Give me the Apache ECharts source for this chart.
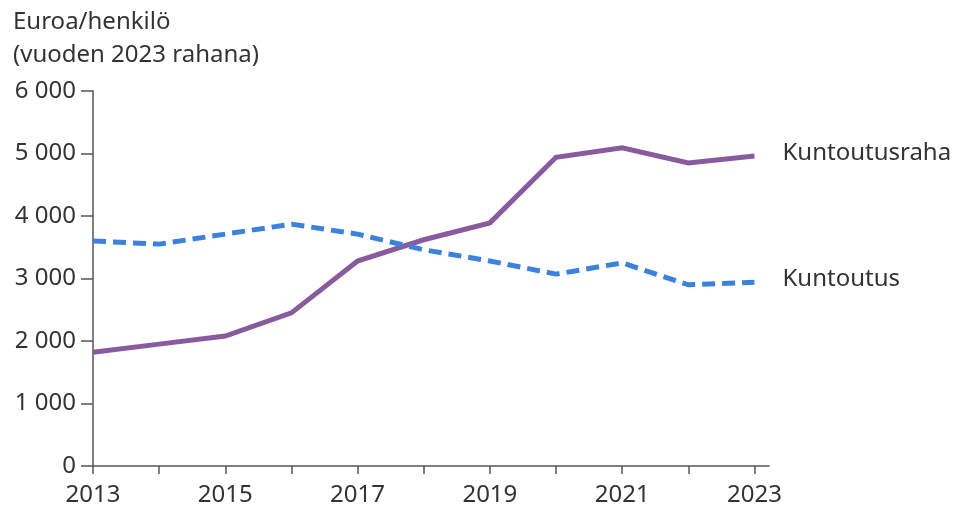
<!DOCTYPE html>
<html>
<head>
<meta charset="utf-8">
<script src="https://cdn.jsdelivr.net/npm/echarts@6/dist/echarts.min.js"></script>
<style>
  html, body { margin: 0; padding: 0; background: #fff; }
  #chart { width: 953px; height: 511px; }
</style>
</head>
<body>
<div id="chart"></div>
<script>
// vuodet ja arvot (euroa/henkilö, vuoden 2023 rahana)
var years = [2013, 2014, 2015, 2016, 2017, 2018, 2019, 2020, 2021, 2022, 2023];
var yearLabels = [2013, 2015, 2017, 2019, 2021, 2023];
var kuntoutusraha = [1820, 1950, 2080, 2450, 3280, 3620, 3890, 4940, 5090, 4850, 4960];
var kuntoutus = [3600, 3550, 3710, 3870, 3710, 3460, 3280, 3070, 3250, 2900, 2940];

var font = 'Noto Sans';
var textColor = '#333';
var axisColor = '#555';

function pairs(vals) {
  return years.map(function (y, i) { return [y, vals[i]]; });
}

var chart = echarts.init(document.getElementById('chart'));

var option = {
  animation: false,
  title: {
    text: 'Euroa/henkilö\n(vuoden 2023 rahana)',
    left: 8,
    top: 1,
    textStyle: {
      fontFamily: font,
      fontSize: 24,
      fontWeight: 'normal',
      color: textColor,
      lineHeight: 33
    }
  },
  grid: {
    left: 93,
    right: 184,
    top: 91,
    bottom: 45
  },
  xAxis: {
    type: 'value',
    min: 2013,
    max: 2023.22,
    splitLine: { show: false },
    axisLine: { lineStyle: { color: axisColor, width: 1.5 } },
    axisTick: {
      length: 8,
      lineStyle: { color: axisColor, width: 1.5 },
      customValues: years
    },
    axisLabel: {
      customValues: yearLabels,
      margin: 17,
      fontFamily: font,
      fontSize: 24,
      color: textColor,
      formatter: function (v) { return String(v); }
    }
  },
  yAxis: {
    type: 'value',
    min: 0,
    max: 6000,
    interval: 1000,
    splitLine: { show: false },
    axisLine: { show: true, lineStyle: { color: axisColor, width: 1.5 } },
    axisTick: {
      show: true,
      length: 12,
      lineStyle: { color: axisColor, width: 1.5 }
    },
    axisLabel: {
      margin: 17,
      fontFamily: font,
      fontSize: 24,
      color: textColor,
      formatter: function (v) {
        return String(v).replace(/\B(?=(\d{3})+(?!\d))/g, ' ');
      }
    }
  },
  series: [{
    name: 'Kuntoutusraha',
    type: 'line',
    data: pairs(kuntoutusraha),
    showSymbol: false,
    lineStyle: { color: '#8a5a9f', width: 5, cap: 'butt', join: 'miter' },
    endLabel: {
      show: true,
      formatter: '{a}',
      distance: 28,
      offset: [0, -3],
      fontFamily: font,
      fontSize: 24,
      color: textColor
    }
  }, {
    name: 'Kuntoutus',
    type: 'line',
    data: pairs(kuntoutus),
    showSymbol: false,
    lineStyle: { color: '#3c82dc', width: 5, type: [13, 7], cap: 'butt' },
    endLabel: {
      show: true,
      formatter: '{a}',
      distance: 28,
      offset: [0, -3],
      fontFamily: font,
      fontSize: 24,
      color: textColor
    }
  }]
};

chart.setOption(option);
</script>
</body>
</html>
